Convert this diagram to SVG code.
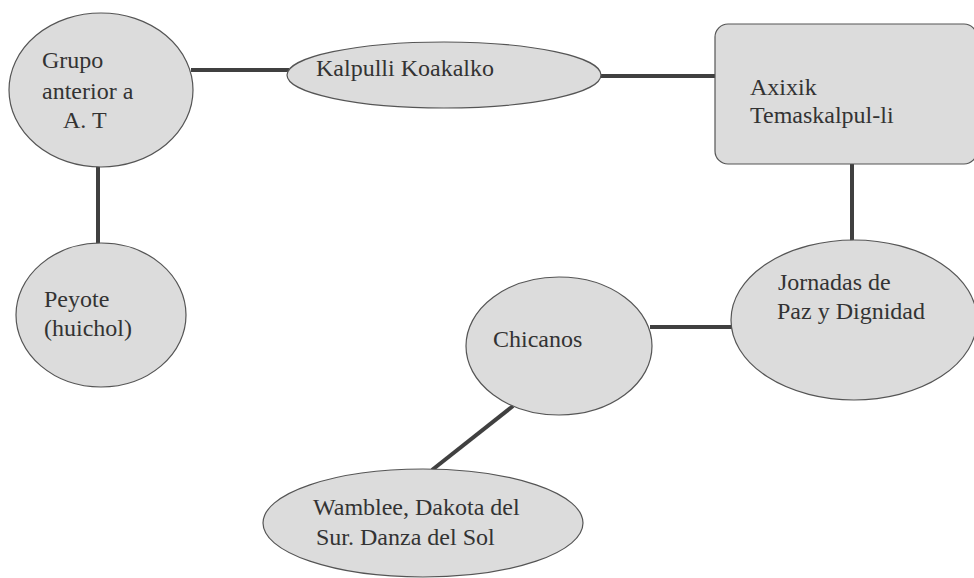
<svg xmlns="http://www.w3.org/2000/svg" width="974" height="578" viewBox="0 0 974 578" font-family="'Liberation Serif', 'Times New Roman', serif">
  <style>
    .shape { fill: #dcdcdc; stroke: #555555; stroke-width: 1.2; }
    .label { font-size: 24px; fill: #333333; }
    .link { stroke: #404040; stroke-width: 4; fill: none; }
  </style>
  <rect width="974" height="578" fill="#ffffff"/>

  <!-- connectors -->
  <g id="connectors">
    <line class="link" x1="191" y1="70" x2="289" y2="70"/>
    <line class="link" x1="600" y1="76" x2="716" y2="76"/>
    <line class="link" x1="98" y1="165" x2="98" y2="244"/>
    <line class="link" x1="852" y1="163" x2="852" y2="242"/>
    <line class="link" x1="650" y1="327" x2="733" y2="327"/>
    <line class="link" x1="513" y1="406" x2="432" y2="470"/>
  </g>

  <g id="grupo">
    <ellipse class="shape" cx="101" cy="90" rx="92" ry="77"/>
    <text class="label" x="42" y="68" font-family="'Liberation Serif', serif">Grupo</text>
    <text class="label" x="42" y="99" font-family="'Liberation Serif', serif">anterior a</text>
    <text class="label" x="63" y="128" font-family="'Liberation Serif', serif">A. T</text>
  </g>

  <g id="kalpulli">
    <ellipse class="shape" cx="444" cy="75" rx="157" ry="33"/>
    <text class="label" x="316" y="76" font-family="'Liberation Serif', serif">Kalpulli Koakalko</text>
  </g>

  <g id="axixik">
    <rect class="shape" x="715" y="24" width="262" height="140" rx="13"/>
    <text class="label" x="750" y="95" font-family="'Liberation Serif', serif">Axixik</text>
    <text class="label" x="750" y="123" font-family="'Liberation Serif', serif">Temaskalpul-li</text>
  </g>

  <g id="peyote">
    <ellipse class="shape" cx="101" cy="315" rx="85" ry="72"/>
    <text class="label" x="44" y="307" font-family="'Liberation Serif', serif">Peyote</text>
    <text class="label" x="44" y="336" font-family="'Liberation Serif', serif">(huichol)</text>
  </g>

  <g id="jornadas">
    <ellipse class="shape" cx="854" cy="320" rx="123" ry="80"/>
    <text class="label" x="778" y="290" font-family="'Liberation Serif', serif">Jornadas de</text>
    <text class="label" x="777" y="319" font-family="'Liberation Serif', serif">Paz y Dignidad</text>
  </g>

  <g id="chicanos">
    <ellipse class="shape" cx="559" cy="346" rx="93" ry="69"/>
    <text class="label" x="493" y="347" font-family="'Liberation Serif', serif">Chicanos</text>
  </g>

  <g id="wamblee">
    <ellipse class="shape" cx="423" cy="523" rx="160" ry="54"/>
    <text class="label" x="313" y="515" font-family="'Liberation Serif', serif">Wamblee, Dakota del</text>
    <text class="label" x="316" y="545" font-family="'Liberation Serif', serif">Sur. Danza del Sol</text>
  </g>
</svg>
